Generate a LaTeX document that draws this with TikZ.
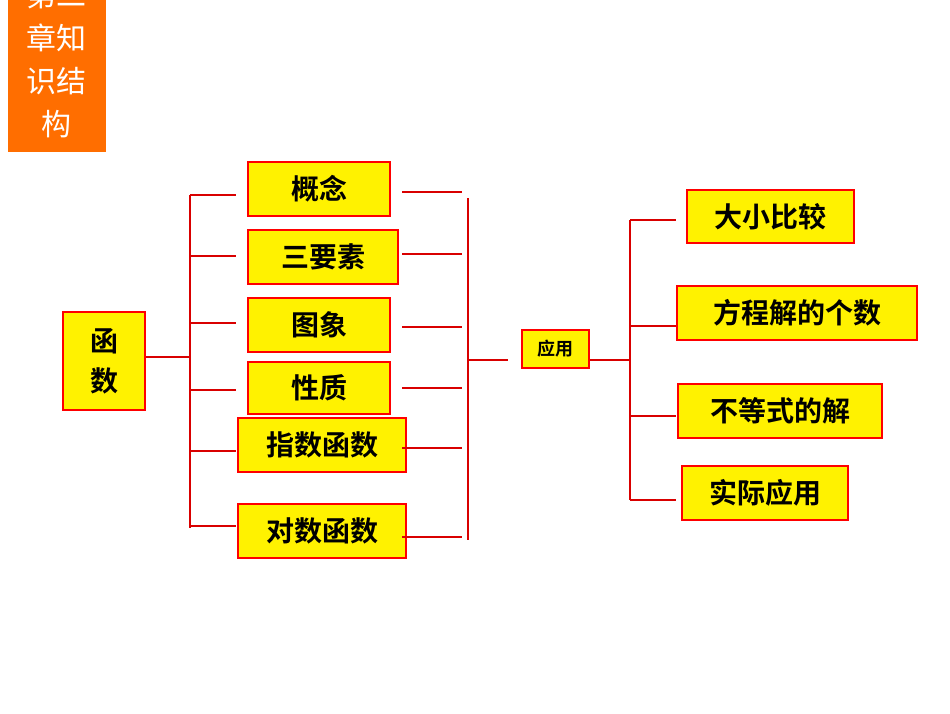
\documentclass[tikz,border=0pt]{standalone}
\usepackage{fontspec}
\newfontfamily\cjk{Noto Sans CJK SC}[BoldFont={Noto Sans CJK SC Bold}]
\begin{document}
\begin{tikzpicture}[x=1pt,y=-1pt,
 bx/.style={draw=red,line width=2pt,fill=yellow,inner sep=0pt,font=\cjk\bfseries\fontsize{28}{28}\selectfont},
 ln/.style={draw=red!85!black,line width=2pt}]
\useasboundingbox (0,0) rectangle (950,713);
\fill[white] (0,0) rectangle (950,713);
\fill[orange!80!red!95!yellow] (8,0) rectangle (106,152);
\begin{scope}
\clip (8,0) rectangle (106,152);
\node[text=white,font=\cjk\fontsize{30}{43}\selectfont,align=center,anchor=north] (title) at (57,-22) {第二\\章知\\识结\\构};
\end{scope}
\newcommand\bxn[6]{\node[bx,minimum width=#4-#2,minimum height=#5-#3] (#1) at ({(#2+#4)/2},{(#3+#5)/2}) {#6};}
\bxn{a}{248}{162}{390}{216}{概念}
\bxn{b}{248}{230}{398}{284}{三要素}
\bxn{c}{248}{298}{390}{352}{图象}
\bxn{d}{248}{362}{390}{414}{性质}
\bxn{e}{238}{418}{406}{472}{指数函数}
\bxn{f}{238}{504}{406}{558}{对数函数}
\node[bx,minimum width=82,minimum height=98,align=center,font=\cjk\bfseries\fontsize{28}{40}\selectfont] (fn) at (104,361) {函\\数};
\node[bx,minimum width=67,minimum height=38,font=\cjk\bfseries\fontsize{18}{18}\selectfont] (yy) at (555.5,349) {应用};
\bxn{g}{687}{190}{854}{243}{大小比较}
\bxn{h}{677}{286}{917}{340}{方程解的个数}
\bxn{i}{678}{384}{882}{438}{不等式的解}
\bxn{j}{682}{466}{848}{520}{实际应用}
% left bracket
\coordinate (L1) at (190,195); \coordinate (L2) at (190,528);
\draw[ln] (L1) -- (L2);
\draw[ln] (fn.east |- 0,357) -- (190,357);
\foreach \y in {195,256,323,390,451,526} \draw[ln] (190,\y) -- (236,\y);
% right bracket
\draw[ln] (468,198) -- (468,540);
\foreach \y in {192,254,327,388,448,537} \draw[ln] (402,\y) -- (462,\y);
\draw[ln] (468,360) -- (508,360);
\draw[ln] (yy.east |- 0,360) -- (630,360);
\draw[ln] (630,220) -- (630,500);
\foreach \y in {220,326,416,500} \draw[ln] (630,\y) -- (676,\y);
\end{tikzpicture}
\end{document}
